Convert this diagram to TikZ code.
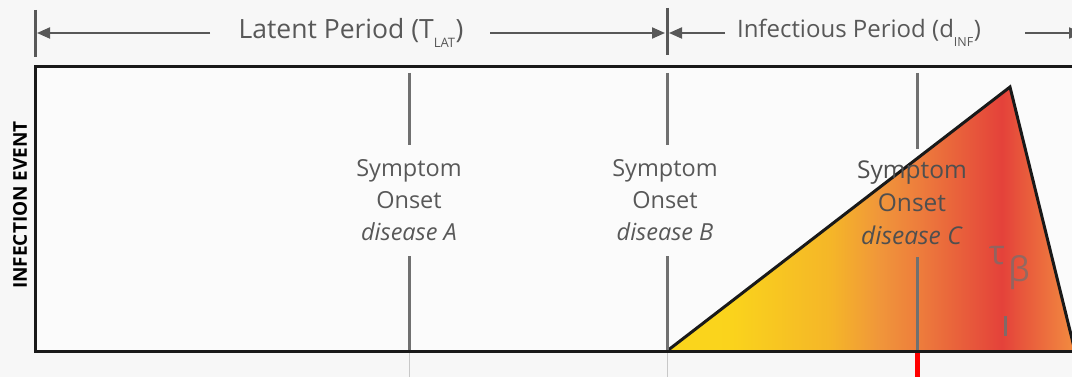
\documentclass[tikz,border=0pt]{standalone}
\usepackage{fontspec}
\setmainfont{Open Sans}
\usetikzlibrary{arrows.meta}
\definecolor{bg}{RGB}{247,247,247}
\definecolor{boxbg}{RGB}{251,251,251}
\definecolor{txt}{RGB}{88,88,88}
\definecolor{vline}{RGB}{112,112,112}
\definecolor{faint}{RGB}{200,200,200}
\definecolor{cA}{RGB}{250,214,28}
\definecolor{cA2}{RGB}{250,211,28}
\definecolor{cB}{RGB}{245,182,40}
\definecolor{cC}{RGB}{240,150,58}
\definecolor{cD}{RGB}{237,124,60}
\definecolor{cE}{RGB}{228,66,58}
\definecolor{cF}{RGB}{242,140,64}
\pgfdeclarehorizontalshading{infshade}{100bp}{color(0bp)=(cA); color(25bp)=(cA); color(33bp)=(cA2); color(45bp)=(cB); color(51bp)=(cC); color(56bp)=(cD); color(66bp)=(cE); color(75bp)=(cF); color(100bp)=(cF)}
\begin{document}
\begin{tikzpicture}[x=1pt,y=-1pt,
  dimline/.style={draw=txt, line width=2pt, -{Triangle[length=13pt,width=11pt]}},
  dimtick/.style={draw=txt, line width=3pt},
  vl/.style={draw=vline, line width=3pt},
  toptext/.style={text=txt, inner sep=0pt},
  onset/.style={text=txt, font=\fontsize{23.5}{32}\selectfont, align=center, inner sep=0pt},
  onsetC/.style={text=txt!90!black, font=\fontsize{24.5}{33}\selectfont, align=center, inner sep=0pt},
  greek/.style={text=vline, opacity=0.7, font=\fontsize{34}{34}\selectfont, inner sep=0pt},
  frame/.style={draw=black!90, line width=3pt}]
\useasboundingbox (0,0) rectangle (1072,377);
\fill[bg] (0,0) rectangle (1072,377);
\clip (0,0) rectangle (1072,377);

% coordinates
\coordinate (t0) at (35,33);
\coordinate (t1) at (667,33);
\coordinate (t2) at (1082,33);

% top dimension texts
\node[toptext, font=\fontsize{26.5}{30}\selectfont] (lat) at (351,33) {Latent Period (T\textsubscript{\raisebox{-5pt}{\fontsize{13}{13}\selectfont LAT}})};
\node[toptext, font=\fontsize{24}{30}\selectfont] (inf) at (859,33) {Infectious Period (d\textsubscript{\raisebox{-5pt}{\fontsize{12.5}{13}\selectfont INF}})};

% ticks
\draw[dimtick] (35,10) -- (35,57);
\draw[dimtick] (667,8) -- (667,55);

% dimension arrows
\draw[dimline] (210,33) -- ([xshift=2pt]t0);
\draw[dimline] (490,33) -- ([xshift=-2pt]t1);
\draw[dimline] (725,33) -- ([xshift=2pt]t1);
\draw[dimline] (1025,33) -- (t2);

% box background
\fill[boxbg] (35,67) rectangle (1080,351);

% faint lines under the box
\draw[faint, line width=1pt] (409,351) -- (409,377);
\draw[faint, line width=1pt] (667,351) -- (667,377);

% infectiousness triangle
\coordinate (p1) at (667,351);
\coordinate (p2) at (1010,87);
\coordinate (p3) at (1075,351);
\shade[shading=infshade] (p1) -- (p2) -- (p3) -- cycle;
\draw[frame, line join=miter] (p1) -- (p2) -- (p3);

% box frame
\draw[frame] (1085,67) -- (35,67) -- (35,351) -- (1085,351);

% symptom onset texts
\node[onset] (oA) at (409,200) {Symptom\\Onset\\\textit{disease A}};
\node[onset] (oB) at (665,200) {Symptom\\Onset\\\textit{disease B}};
\node[onsetC] (oC) at (912,203) {Symptom\\Onset\\\textit{disease C}};

% vertical onset lines
\coordinate (aT) at (409,73);  \coordinate (aB) at (409,350);
\coordinate (bT) at (667,73);  \coordinate (bB) at (667,350);
\coordinate (cT) at (917,73);  \coordinate (cB) at (917,350);
\draw[vl] (aT) -- (409,145);
\draw[vl] (409,256) -- (aB);
\draw[vl] (bT) -- (667,145);
\draw[vl] (667,256) -- (bB);
\draw[vl] (cT) -- (917,149);
\draw[vl] (917,257) -- (cB);

% red marker
\draw[red, line width=5pt] (917,353) -- (917,377);

% tau beta
\node[greek] (tau) at (997,256) {τ};
\node[greek] (beta) at (1019,273) {β};
\coordinate (tb1) at (1005,316);
\coordinate (tb2) at (1005,336);
\draw[vl, opacity=0.85] (tb1) -- (tb2);

% rotated label
\node[rotate=90, font=\fontsize{19}{19}\selectfont\bfseries, text=black, inner sep=0pt] (ie) at (20,205) {INFECTION EVENT};
\end{tikzpicture}
\end{document}
